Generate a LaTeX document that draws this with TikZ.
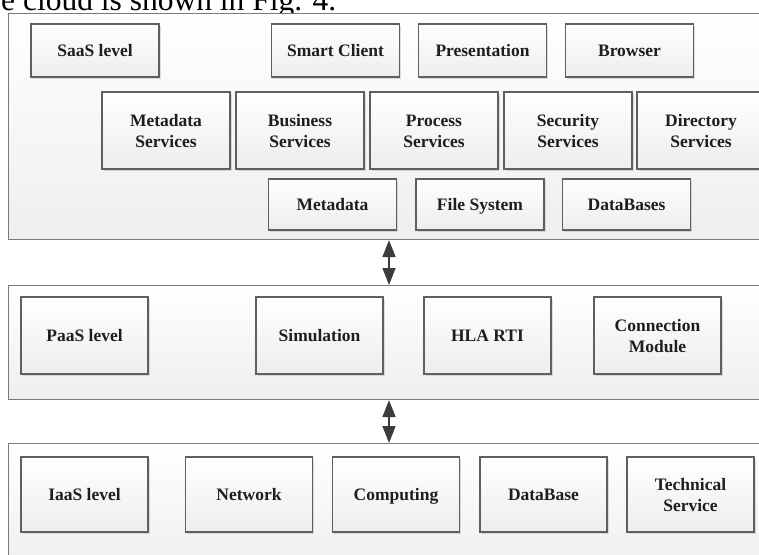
\documentclass[tikz,border=0pt]{standalone}
\usepackage{fontspec}
\setmainfont{Liberation Serif}
\usetikzlibrary{arrows.meta,shadows}
\definecolor{edge}{HTML}{5F5F5F}
\definecolor{pedge}{HTML}{7A7A7A}
\definecolor{ink}{HTML}{1E1E1E}
\definecolor{arr}{HTML}{3C3C3C}
\newcommand{\bxline}[1]{\rule[-1.2pt]{0pt}{15pt}\smash{#1}}
\tikzset{
  panel/.style={draw=pedge, line width=1.1pt, top color=white, bottom color=gray!13,
    rectangle, inner sep=0pt, anchor=north west},
  unit/.style={draw=edge, line width=1.3pt, top color=white, bottom color=gray!14,
    rectangle, inner sep=0pt, align=center, text=ink,
    font=\bfseries\fontsize{17.5}{21.5}\selectfont,
    drop shadow={shadow xshift=1.5pt, shadow yshift=-1.5pt, opacity=0.25, fill=gray}},
  r1/.style={unit, minimum width=128, minimum height=53},
  r2/.style={unit, minimum width=128, minimum height=77},
  r3/.style={unit, minimum width=128, minimum height=51},
  pbox/.style={unit, minimum width=127, minimum height=77},
  ibox/.style={unit, minimum width=127, minimum height=75},
  link/.style={arr, line width=1.6pt, {Triangle[length=17pt,width=13pt]}-{Triangle[length=17pt,width=13pt]}}
}
\begin{document}
\begin{tikzpicture}[x=1pt,y=-1pt]
\useasboundingbox (0,0) rectangle (759,554);
\clip (0,0) rectangle (759,554);
\fill[white] (0,0) rectangle (759,554);
% clipped running text from the page
\node[anchor=base west, inner sep=0pt, font=\fontsize{31.5}{31.5}\selectfont] (cap) at (1,10) {e cloud is shown in Fig. 4.};
% panels
\node[panel, minimum width=770, minimum height=226] (saas) at (8,13) {};
\node[panel, minimum width=770, minimum height=114] (paas) at (8,285) {};
\node[panel, minimum width=770, minimum height=130] (iaas) at (8,443) {};
% SaaS row 1
\node[r1] (saasl) at (95,50.5) {\bxline{SaaS level}};
\node[r1] (smart) at (335.5,50.5) {\bxline{Smart Client}};
\node[r1] (pres) at (482.5,50.5) {\bxline{Presentation}};
\node[r1] (brow) at (629.5,50.5) {\bxline{Browser}};
% SaaS row 2
\node[r2] (mds) at (166,130.5) {\bxline{Metadata}\\\bxline{Services}};
\node[r2] (bus) at (300,130.5) {\bxline{Business}\\\bxline{Services}};
\node[r2] (proc) at (434,130.5) {\bxline{Process}\\\bxline{Services}};
\node[r2] (sec) at (568,130.5) {\bxline{Security}\\\bxline{Services}};
\node[r2] (dir) at (701,130.5) {\bxline{Directory}\\\bxline{Services}};
% SaaS row 3
\node[r3] (meta) at (332.5,204.5) {\bxline{Metadata}};
\node[r3] (fs) at (480,204.5) {\bxline{File System}};
\node[r3] (dbs) at (626.5,204.5) {\bxline{DataBases}};
% PaaS
\node[pbox] (paasl) at (84.5,335.5) {\bxline{PaaS level}};
\node[pbox] (sim) at (319.5,335.5) {\bxline{Simulation}};
\node[pbox] (hla) at (487.5,335.5) {\bxline{HLA RTI}};
\node[pbox] (conn) at (657.5,335.5) {\bxline{Connection}\\\bxline{Module}};
% IaaS
\node[ibox] (iaasl) at (84.5,494.5) {\bxline{IaaS level}};
\node[ibox] (net) at (249,494.5) {\bxline{Network}};
\node[ibox] (comp) at (396,494.5) {\bxline{Computing}};
\node[ibox] (db) at (543.5,494.5) {\bxline{DataBase}};
\node[ibox] (tech) at (690.5,494.5) {\bxline{Technical}\\\bxline{Service}};
% connectors
\coordinate (ax) at (389,0);
\draw[link] (saas.south -| ax) -- (paas.north -| ax);
\draw[link] (paas.south -| ax) -- (iaas.north -| ax);
\end{tikzpicture}
\end{document}
